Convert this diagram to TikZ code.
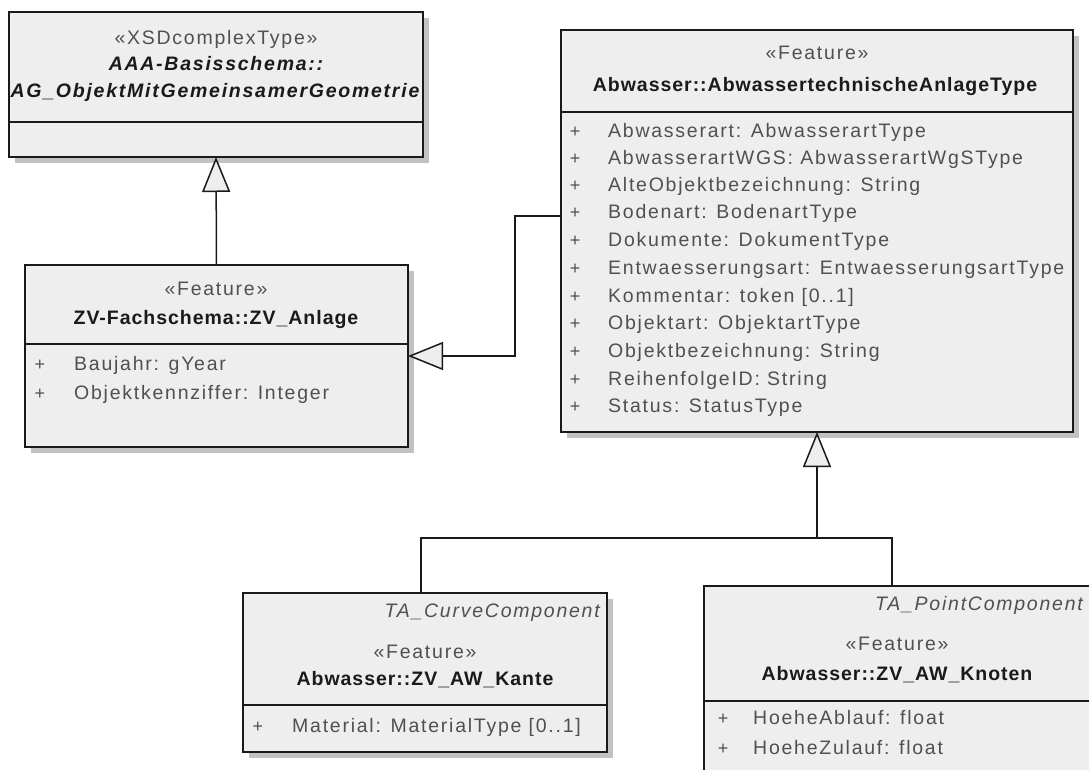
\documentclass[tikz,border=0pt]{standalone}
\usepackage{fontspec}
\setmainfont{Liberation Sans}
\newfontfamily\umlfont[LetterSpace=9]{Liberation Sans}
\newfontfamily\umlnamefont[LetterSpace=5]{Liberation Sans}
\newfontfamily\umlabsfont[LetterSpace=9]{Liberation Sans}
\usetikzlibrary{arrows.meta,shadows,calc}
\definecolor{boxfill}{HTML}{EEEEEE}
\definecolor{shadowcol}{HTML}{C2C2C2}
\definecolor{linecol}{HTML}{1A1A1A}
\definecolor{textgray}{HTML}{505050}
\definecolor{namecol}{HTML}{1A1A1A}
\begin{document}
\begin{tikzpicture}[x=1pt,y=-1pt,
  umlbox/.style={draw=linecol, line width=1.8pt, fill=boxfill,
    general shadow={fill=shadowcol, shadow xshift=6pt, shadow yshift=-6pt},
    inner sep=0pt, outer sep=0pt, anchor=north west},
  divider/.style={draw=linecol, line width=1.5pt},
  stereo/.style={font=\umlfont\fontsize{19.5}{23}\selectfont, text=textgray, inner sep=0pt, anchor=mid},
  clsname/.style={font=\umlnamefont\bfseries\fontsize{19.5}{23}\selectfont, text=namecol, inner sep=0pt, anchor=mid},
  absname/.style={clsname, font=\umlabsfont\bfseries\itshape\fontsize{19.5}{23}\selectfont},
  tagged/.style={font=\umlfont\itshape\fontsize{19.5}{23}\selectfont, text=textgray, inner sep=0pt, anchor=mid east},
  plus/.style={font=\umlfont\fontsize{18}{21}\selectfont, text=textgray, inner sep=0pt, anchor=mid},
  attr/.style={font=\umlfont\fontsize{19.5}{23}\selectfont, text=textgray, inner sep=0pt, anchor=mid west},
  conn/.style={draw=linecol, line width=1.5pt},
  gen/.style={conn, -{Triangle[open, length=35pt, width=28pt, fill=boxfill, line join=miter]}}
]
\useasboundingbox (0,0) rectangle (1089,769);
\clip (0,0) rectangle (1089,769);

% ---- AAA-Basisschema::AG_ObjektMitGemeinsamerGeometrie
\node[umlbox, minimum width=414pt, minimum height=145pt] (xsd) at (9,12) {};
\draw[divider] (xsd.west |- 0,122) -- (xsd.east |- 0,122);
\begin{scope}
  \clip (xsd.north west) rectangle (xsd.south east);
  \node[stereo] (xsd-st) at (216,42) {«XSDcomplexType»};
  \node[absname] (xsd-n1) at (216,68) {AAA-Basisschema::};
  \node[absname] (xsd-n2) at (215,95) {AG\_ObjektMitGemeinsamerGeometrie};
\end{scope}

% ---- ZV-Fachschema::ZV_Anlage
\node[umlbox, minimum width=383pt, minimum height=182pt] (zv) at (25,265) {};
\draw[divider] (zv.west |- 0,344) -- (zv.east |- 0,344);
\node[stereo] (zv-st) at (216,293) {«Feature»};
\node[clsname] (zv-n) at (216,322) {ZV-Fachschema::ZV\_Anlage};
\node[plus] (zv-p1) at (40,368) {+};
\node[attr] (zv-a1) at (74,368) {Baujahr: gYear};
\node[plus] (zv-p2) at (40,397) {+};
\node[attr] (zv-a2) at (74,397) {Objektkennziffer: Integer};

% ---- Abwasser::AbwassertechnischeAnlageType
\node[umlbox, minimum width=512pt, minimum height=402pt] (anl) at (561,30) {};
\draw[divider] (anl.west |- 0,112) -- (anl.east |- 0,112);
\node[stereo] (anl-st) at (817,57) {«Feature»};
\node[clsname] (anl-n) at (815,89) {Abwasser::AbwassertechnischeAnlageType};
\foreach \y/\t [count=\i] in {
  135/{Abwasserart: AbwasserartType},
  162/{AbwasserartWGS: AbwasserartWgSType},
  189/{AlteObjektbezeichnung: String},
  216/{Bodenart: BodenartType},
  244/{Dokumente: DokumentType},
  272/{Entwaesserungsart: EntwaesserungsartType},
  300/{Kommentar: token [0..1]},
  327/{Objektart: ObjektartType},
  355/{Objektbezeichnung: String},
  383/{ReihenfolgeID: String},
  410/{Status: StatusType}}{
  \node[plus] (anl-p\i) at (575,\y) {+};
  \node[attr] (anl-a\i) at (608,\y) {\t};
}

% ---- Abwasser::ZV_AW_Kante
\node[umlbox, minimum width=364pt, minimum height=159pt] (kante) at (243,593) {};
\draw[divider] (kante.west |- 0,705) -- (kante.east |- 0,705);
\node[tagged] (kante-tag) at (600,615) {TA\_CurveComponent};
\node[stereo] (kante-st) at (425,656) {«Feature»};
\node[clsname] (kante-n) at (425,683) {Abwasser::ZV\_AW\_Kante};
\node[plus] (kante-p1) at (258,730) {+};
\node[attr] (kante-a1) at (292,730) {Material: MaterialType [0..1]};

% ---- Abwasser::ZV_AW_Knoten
\node[umlbox, minimum width=390pt, minimum height=220pt] (knoten) at (704,586) {};
\draw[divider] (knoten.west |- 0,701) -- (knoten.east |- 0,701);
\node[tagged] (knoten-tag) at (1083,608) {TA\_PointComponent};
\node[stereo] (knoten-st) at (897,648) {«Feature»};
\node[clsname] (knoten-n) at (897,678) {Abwasser::ZV\_AW\_Knoten};
\node[plus] (knoten-p1) at (723,722) {+};
\node[attr] (knoten-a1) at (753,722) {HoeheAblauf: float};
\node[plus] (knoten-p2) at (723,752) {+};
\node[attr] (knoten-a2) at (753,752) {HoeheZulauf: float};

% ---- generalizations
\draw[gen] (zv.north) -- (xsd.south);

\coordinate (elbow) at (515,216);
\draw[gen] (anl.west |- elbow) -- (elbow) |- (zv.east);

\coordinate (bus) at (817,538);
\draw[conn] ($(kante.north west)+(178,0)$) |- (bus)
  -| ($(knoten.north west)+(188,0)$);
\draw[gen] (bus) -- (anl.south);
\end{tikzpicture}
\end{document}
